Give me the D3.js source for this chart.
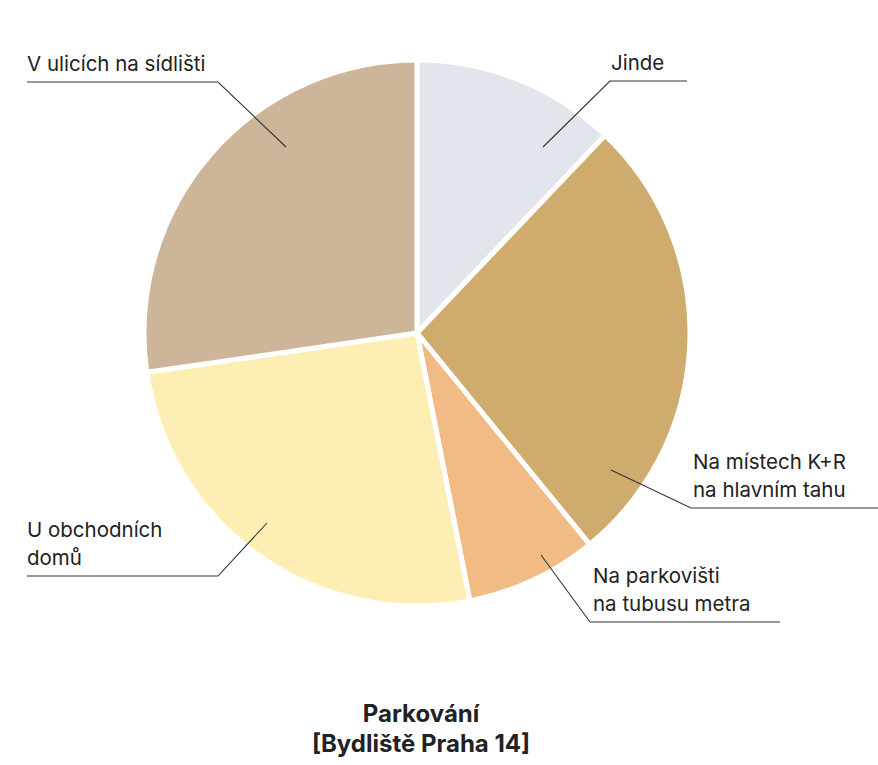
<!DOCTYPE html>
<html><head><meta charset="utf-8">
<script src="https://cdn.jsdelivr.net/npm/d3@7"></script>
<style>body{margin:0;background:#fff;} text{font-family:Inter, "Noto Sans", sans-serif;}</style>
</head><body><svg id="c" width="878" height="765"></svg>
<script>
const categories = ["Jinde","Na místech K+R na hlavním tahu","Na parkovišti na tubusu metra","U obchodních domů","V ulicích na sídlišti"];
const values = [12.1, 27, 7.8, 25.8, 27.3];
const colors = ["#e3e5ec","#cfac6e","#f0bb84","#fdefb4","#cdb599"];
const labelLines = [["Jinde"],["Na místech K+R","na hlavním tahu"],["Na parkovišti","na tubusu metra"],["U obchodních","domů"],["V ulicích na sídlišti"]];
const titleLines = ["Parkování","[Bydliště Praha 14]"];
// label layout: anchor inside slice (relative to centre), elbow point, end of horizontal rule, text x
const labelLayout = [
  {a:[126,-186], e:[610,81], h:687, tx:611},
  {a:[194,137], e:[691,508], h:878, tx:693},
  {a:[124,222], e:[590,622], h:780, tx:593},
  {a:[-150,190], e:[218,576], h:27, tx:27},
  {a:[-131,-186], e:[218,82], h:27, tx:27}
];
const cx=417, cy=333, R=273;
const svg=d3.select("#c");
const pie=d3.pie().sort(null).value(d=>d);
const arcs=pie(values);
const arc=d3.arc().innerRadius(0).outerRadius(R);
const g=svg.append("g").attr("transform",`translate(${cx},${cy})`);
g.selectAll("path").data(arcs).enter().append("path")
  .attr("d",arc).attr("fill",(d,i)=>colors[i]).attr("stroke","#fff").attr("stroke-width",5).attr("stroke-linejoin","round");
labelLayout.forEach((L,i)=>{
  const ax=cx+L.a[0], ay=cy+L.a[1];
  svg.append("polyline").attr("points",`${ax},${ay} ${L.e[0]},${L.e[1]} ${L.h},${L.e[1]}`)
    .attr("fill","none").attr("stroke","#333").attr("stroke-width",1.1);
  const lines=labelLines[i];
  lines.forEach((t,j)=>{
    svg.append("text").attr("x",L.tx).attr("y",L.e[1]-11-(lines.length-1-j)*28)
      .attr("font-size",20.5).attr("fill","#222").text(t);
  });
});
titleLines.forEach((t,j)=>{
  svg.append("text").attr("x",421).attr("y",722+j*30).attr("text-anchor","middle")
    .attr("font-size",24).attr("font-weight",700).attr("fill","#222").text(t);
});
</script></body></html>
